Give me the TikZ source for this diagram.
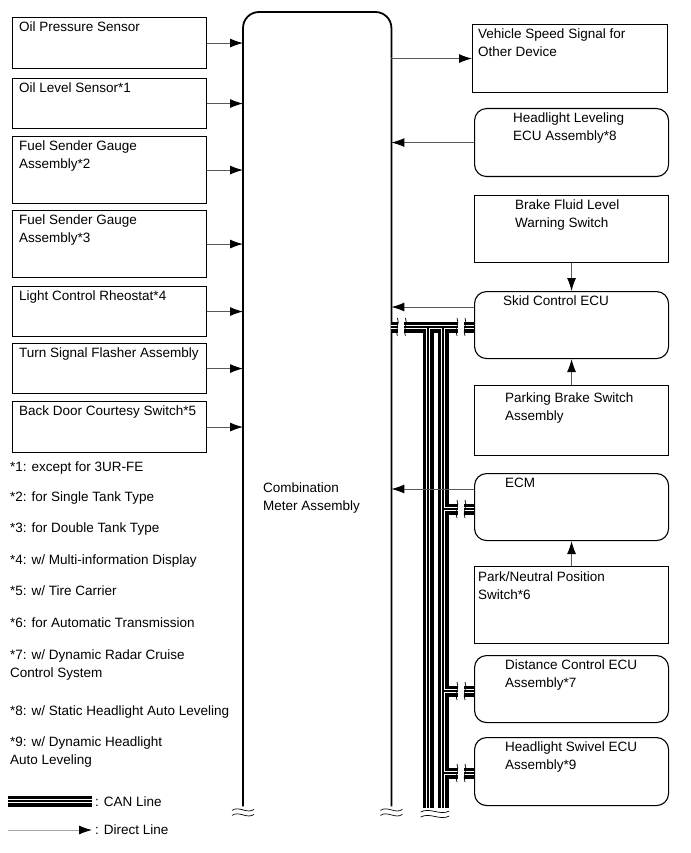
\documentclass[tikz,border=0pt]{standalone}
\usepackage{fontspec}
\setmainfont{Liberation Sans}
\usetikzlibrary{arrows.meta,calc,positioning}

\tikzset{
  blk/.style={draw, line width=1.1pt, anchor=north west, inner sep=0pt, minimum width=194pt},
  rblk/.style={blk, rounded corners=12pt},
  lbl/.style={anchor=north west, inner sep=0pt, align=left, font=\fontsize{13.5}{18}\selectfont},
  sig/.style={draw=black!65, line width=0.9pt, -{Latex[length=13pt,width=9pt,color=black]}},
  canline/.style={draw=black, line width=1.6pt,
    preaction={draw=black, line width=11pt},
    preaction={draw=white, line width=4.4pt}},
  vbrk/.pic={
    \fill[white] (-3,-8) rectangle (3,8);
    \draw[line width=0.7pt] (-4,-9) .. controls (-1,-4) and (-7,4) .. (-4,9);
    \draw[line width=0.7pt] (4,-9) .. controls (7,-4) and (1,4) .. (4,9);
  },
  bbrk/.pic={
    \draw[line width=0.7pt] (-11,1) .. controls (-4,-4) and (4,5) .. (11,0);
    \draw[line width=0.7pt] (-11,6) .. controls (-4,1) and (4,10) .. (11,5);
  }
}

\begin{document}
\begin{tikzpicture}[x=1pt,y=-1pt]
\useasboundingbox (0,0) rectangle (690,853);

\node[minimum width=148pt, minimum height=794pt, anchor=north west, inner sep=0pt] (meter) at (243,12) {};
\draw[line width=1.8pt, rounded corners=16pt] (meter.south west) -- (meter.north west) -- (meter.north east) -- (meter.south east);
\node[lbl] (meterT) at (263,483) {Combination\\Meter Assembly};

\node[blk, minimum height=51pt] (ops) at (12,17) {};
\node[blk, minimum height=50pt] (ols) at (12,78) {};
\node[blk, minimum height=67pt] (fs2) at (12,136) {};
\node[blk, minimum height=67pt] (fs3) at (12,210) {};
\node[blk, minimum height=50pt] (lcr) at (12,286) {};
\node[blk, minimum height=50pt] (tsf) at (12,343) {};
\node[blk, minimum height=51pt] (bdc) at (12,401) {};
\node[lbl] (opsT) at ($(ops.north west)+(7,5)$) {Oil Pressure Sensor};
\node[lbl] (olsT) at ($(ols.north west)+(7,5)$) {Oil Level Sensor*1};
\node[lbl] (fs2T) at ($(fs2.north west)+(7,5)$) {Fuel Sender Gauge\\Assembly*2};
\node[lbl] (fs3T) at ($(fs3.north west)+(7,5)$) {Fuel Sender Gauge\\Assembly*3};
\node[lbl] (lcrT) at ($(lcr.north west)+(7,5)$) {Light Control Rheostat*4};
\node[lbl] (tsfT) at ($(tsf.north west)+(7,5)$) {Turn Signal Flasher Assembly};
\node[lbl] (bdcT) at ($(bdc.north west)+(7,5)$) {Back Door Courtesy Switch*5};
\foreach \b in {ops,ols,fs2,fs3,lcr,tsf,bdc}
  \draw[sig] (\b.east) -- (\b.east -| meter.west);

\node[blk, minimum width=195pt, minimum height=68pt] (vss) at (472,24) {};
\node[rblk, minimum height=68pt] (hlv) at (474,108) {};
\node[blk, minimum height=67pt] (bfl) at (474,195) {};
\node[rblk, minimum height=67pt] (skid) at (474,291) {};
\node[blk, minimum height=70pt] (pbs) at (474,385) {};
\node[rblk, minimum height=67pt] (ecm) at (474,473) {};
\node[blk, minimum height=77pt] (pnp) at (474,566) {};
\node[rblk, minimum height=67pt] (dce) at (474,655) {};
\node[rblk, minimum height=68pt] (hsw) at (474,737) {};
\node[lbl] (vssT) at ($(vss.north west)+(6,5)$) {Vehicle Speed Signal for\\Other Device};
\node[lbl] (hlvT) at ($(hlv.north west)+(39,5)$) {Headlight Leveling\\ECU Assembly*8};
\node[lbl] (bflT) at ($(bfl.north west)+(41,5)$) {Brake Fluid Level\\Warning Switch};
\node[lbl] (skidT) at ($(skid.north west)+(29,5)$) {Skid Control ECU};
\node[lbl] (pbsT) at ($(pbs.north west)+(31,8)$) {Parking Brake Switch\\Assembly};
\node[lbl] (ecmT) at ($(ecm.north west)+(31,5)$) {ECM};
\node[lbl] (pnpT) at ($(pnp.north west)+(4,6)$) {Park/Neutral Position\\Switch*6};
\node[lbl] (dceT) at ($(dce.north west)+(31,5)$) {Distance Control ECU\\Assembly*7};
\node[lbl] (hswT) at ($(hsw.north west)+(31,5)$) {Headlight Swivel ECU\\Assembly*9};

\coordinate (skidS) at ($(skid.north west)+(0,16)$);
\coordinate (ecmS) at ($(ecm.north west)+(0,16)$);
\coordinate (skidC) at ($(skid.north west)+(0,36)$);
\coordinate (ecmC) at ($(ecm.north west)+(0,36)$);
\coordinate (dceC) at ($(dce.north west)+(0,36)$);
\coordinate (hswC) at ($(hsw.north west)+(0,36)$);
\coordinate (stemL) at (428,0);
\coordinate (stemR) at (443,0);
\coordinate (bot) at (0,808);

\draw[canline] (skidC -| meter.east) -- (skidC)
  (stemL |- skidC) -- (stemL |- bot)
  (stemR |- skidC) -- (stemR |- bot)
  (stemR |- ecmC) -- (ecmC)
  (stemR |- dceC) -- (dceC)
  (stemR |- hswC) -- (hswC);
\pic at ($(skidC -| meter.east)+(10,0)$) {vbrk};
\foreach \c in {skidC,ecmC,dceC,hswC}
  \pic at ($(\c)+(-13,0)$) {vbrk};

\draw[sig] (meter.east |- vss.west) -- (vss.west);
\draw[sig] (hlv.west) -- (hlv.west -| meter.east);
\draw[sig] (bfl.south) -- (skid.north);
\draw[sig] (skidS) -- (skidS -| meter.east);
\draw[sig] (pbs.north) -- (skid.south);
\draw[sig] (ecmS) -- (ecmS -| meter.east);
\draw[sig] (pnp.north) -- (ecm.south);

\pic at ($(meter.south west)+(0,3)$) {bbrk};
\pic at ($(meter.south east)+(0,3)$) {bbrk};
\pic[xscale=1.3] at ($(bot)+(435,3)$) {bbrk};

\node[lbl] (n1) at (10,462) {*1: except for 3UR-FE};
\node[lbl] (n2) at (10,492) {*2: for Single Tank Type};
\node[lbl] (n3) at (10,523) {*3: for Double Tank Type};
\node[lbl] (n4) at (10,555) {*4: w/ Multi-information Display};
\node[lbl] (n5) at (10,586) {*5: w/ Tire Carrier};
\node[lbl] (n6) at (10,618) {*6: for Automatic Transmission};
\node[lbl] (n7) at (10,650) {*7: w/ Dynamic Radar Cruise\\Control System};
\node[lbl] (n8) at (10,706) {*8: w/ Static Headlight Auto Leveling};
\node[lbl] (n9) at (10,737) {*9: w/ Dynamic Headlight\\Auto Leveling};

\coordinate (canA) at (8,801);
\node[lbl, anchor=west] (canT) at (95,802) {: CAN Line};
\draw[canline] (canA) -- ($(canA -| canT.west)+(-3,0)$);
\coordinate (dirA) at (8,830);
\node[lbl, anchor=west] (dirT) at (95,830) {: Direct Line};
\draw[sig, draw=black!35] (dirA) -- ($(dirA -| dirT.west)+(-3,0)$);
\end{tikzpicture}
\end{document}
